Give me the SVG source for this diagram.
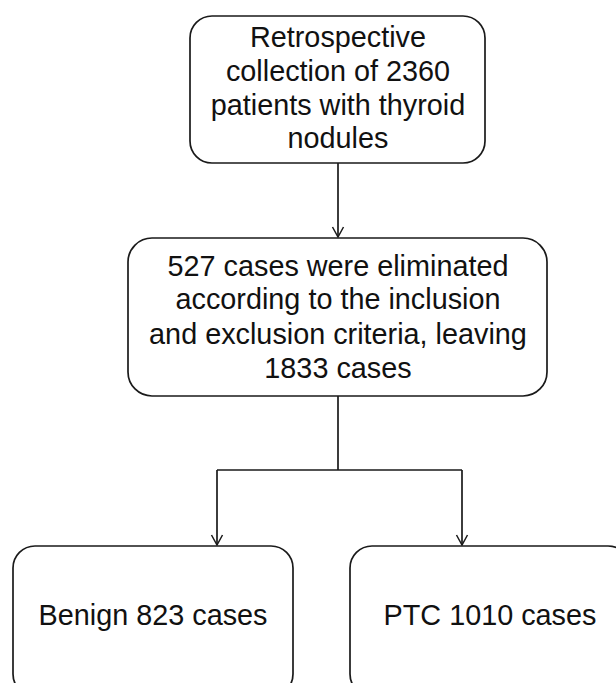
<svg xmlns="http://www.w3.org/2000/svg" width="616" height="683" viewBox="0 0 616 683">
<defs>
<style>
.box{fill:#fff;stroke:#1a1a1a;stroke-width:1.7}
.t{font-family:"Liberation Sans",Arial,sans-serif;font-size:28.8px;fill:#111;text-anchor:middle}
.c{fill:none;stroke:#1a1a1a;stroke-width:1.7}
</style>
<marker id="ah" viewBox="0 0 12 14" refX="11" refY="7" markerWidth="12" markerHeight="14" markerUnits="userSpaceOnUse" orient="auto">
<path d="M1,1.5 L11,7 L1,12.5" fill="none" stroke="#1a1a1a" stroke-width="1.5"/>
</marker>
</defs>
<rect width="616" height="683" fill="#fff"/>
<g id="connectors">
<path class="c" d="M338,163 V237" marker-end="url(#ah)"/>
<path class="c" d="M338,396 V470 M217,470 H462"/>
<path class="c" d="M217,470 V545" marker-end="url(#ah)"/>
<path class="c" d="M462,470 V545" marker-end="url(#ah)"/>
</g>
<g id="n1">
<rect class="box" x="190" y="16" width="295" height="147" rx="22"/>
<text class="t" x="338" y="47">Retrospective</text>
<text class="t" x="338" y="81">collection of 2360</text>
<text class="t" x="338" y="115">patients with thyroid</text>
<text class="t" x="338" y="148">nodules</text>
</g>
<g id="n2">
<rect class="box" x="128" y="238" width="419" height="158" rx="24"/>
<text class="t" x="338" y="276">527 cases were eliminated</text>
<text class="t" x="338" y="309">according to the inclusion</text>
<text class="t" x="338" y="344">and exclusion criteria, leaving</text>
<text class="t" x="338" y="378">1833 cases</text>
</g>
<g id="n3">
<rect class="box" x="13" y="546" width="280" height="150" rx="22"/>
<text class="t" x="153" y="625">Benign 823 cases</text>
</g>
<g id="n4">
<rect class="box" x="350" y="546" width="280" height="150" rx="22"/>
<text class="t" x="490" y="625">PTC 1010 cases</text>
</g>
</svg>
